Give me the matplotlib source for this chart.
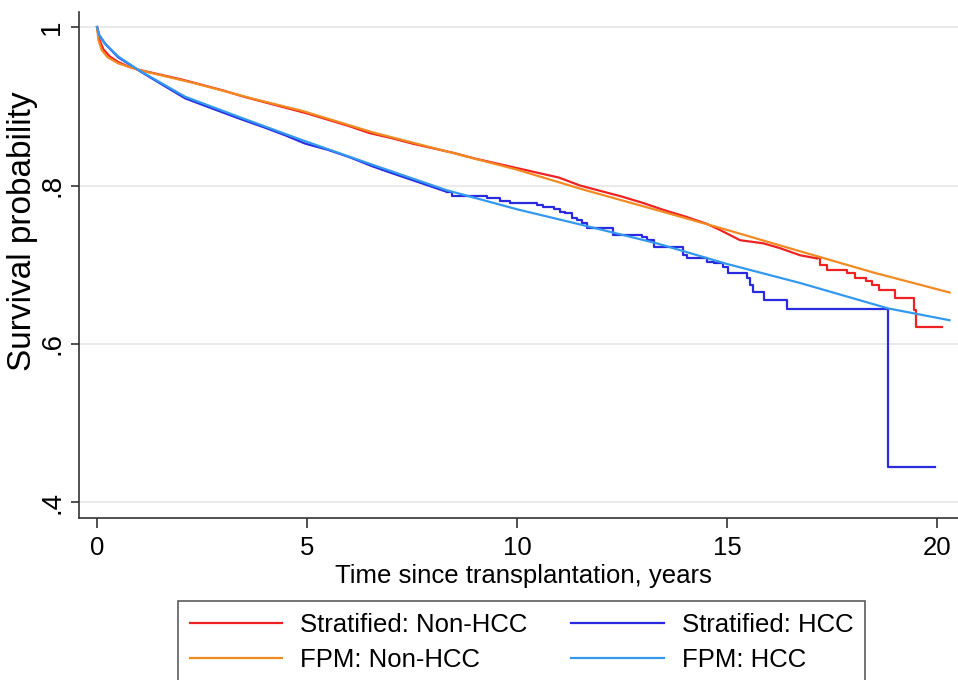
import matplotlib.pyplot as plt

# Kaplan-Meier style stratified curves (smooth part, then visible steps)
strat_nonhcc_t = [0, 0.05, 0.15, 0.3, 0.5, 0.75, 1.0, 1.5, 2.0, 2.5, 3.0, 3.5, 4.0, 4.5,
                  5.0, 5.5, 6.0, 6.5, 7.0, 7.5, 8.0, 8.5, 9.0, 9.5, 10.0, 10.5, 11.0,
                  11.5, 12.0, 12.5, 13.0, 13.5, 14.0, 14.5, 14.83, 15.31, 15.87, 16.26,
                  16.74, 17.14]
strat_nonhcc_s = [1.0, 0.985, 0.972, 0.963, 0.956, 0.950, 0.946, 0.940, 0.934, 0.927,
                  0.920, 0.912, 0.905, 0.898, 0.891, 0.883, 0.875, 0.866, 0.860, 0.853,
                  0.847, 0.841, 0.834, 0.828, 0.822, 0.816, 0.810, 0.800, 0.793, 0.786,
                  0.778, 0.769, 0.761, 0.752, 0.744, 0.731, 0.727, 0.721, 0.712, 0.708]
strat_nonhcc_step_t = [17.14, 17.21, 17.37, 17.85, 18.05, 18.30, 18.45, 18.62, 19.00,
                       19.45, 19.50, 20.11]
strat_nonhcc_step_s = [0.708, 0.700, 0.693, 0.689, 0.683, 0.679, 0.674, 0.668, 0.658,
                       0.643, 0.622, 0.622]

strat_hcc_t = [0, 0.05, 0.19, 0.5, 1.0, 1.5, 2.1, 2.6, 3.36, 4.0, 4.5, 4.95, 5.5, 6.0,
               6.57, 7.0, 7.5, 8.0, 8.33]
strat_hcc_s = [1.0, 0.99, 0.979, 0.962, 0.945, 0.929, 0.910, 0.900, 0.885, 0.873, 0.863,
               0.853, 0.845, 0.836, 0.824, 0.816, 0.807, 0.798, 0.792]
strat_hcc_step_t = [8.33, 8.45, 9.28, 9.60, 9.83, 10.47, 10.63, 10.87, 11.02, 11.14,
                    11.30, 11.42, 11.54, 11.66, 12.29, 12.97, 13.09, 13.25, 13.96, 14.04,
                    14.52, 14.68, 14.91, 15.03, 15.47, 15.55, 15.63, 15.87, 16.42, 18.84,
                    19.95]
strat_hcc_step_s = [0.792, 0.787, 0.784, 0.781, 0.778, 0.776, 0.773, 0.771, 0.767, 0.765,
                    0.759, 0.756, 0.753, 0.746, 0.738, 0.735, 0.731, 0.723, 0.712, 0.708,
                    0.704, 0.702, 0.6975, 0.689, 0.683, 0.674, 0.666, 0.6555, 0.644,
                    0.445, 0.445]

# Flexible parametric model predictions
fpm_nonhcc_t = [0, 0.03, 0.11, 0.25, 0.51, 0.98, 2.33, 3.68, 4.9, 6.57, 8.33, 10.0,
                11.57, 13.33, 15.0, 16.74, 18.5, 20.3]
fpm_nonhcc_s = [1.0, 0.984, 0.971, 0.962, 0.954, 0.946, 0.929, 0.910, 0.894, 0.867,
                0.843, 0.820, 0.795, 0.769, 0.744, 0.717, 0.690, 0.665]

fpm_hcc_t = [0, 0.05, 0.19, 0.5, 0.98, 2.10, 3.36, 4.9, 6.57, 8.33, 10.0, 11.57, 13.33,
             15.0, 16.74, 18.83, 20.3]
fpm_hcc_s = [1.0, 0.99, 0.979, 0.963, 0.946, 0.912, 0.887, 0.857, 0.826, 0.794, 0.770,
             0.750, 0.727, 0.701, 0.677, 0.645, 0.630]

x_ticks = [0, 5, 10, 15, 20]
y_ticks = [0.4, 0.6, 0.8, 1.0]
y_ticklabels = ['.4', '.6', '.8', '1']

c_red = '#ee2222'
c_blue = '#2a2ae0'
c_orange = '#f28a22'
c_lblue = '#3399ee'

font = ['Liberation Sans', 'DejaVu Sans']
fs = 18.5

fig = plt.figure(figsize=(9.58, 6.8), dpi=100)
ax = fig.add_axes([79 / 958, 1 - 518 / 680, (958 - 79) / 958, (518 - 12) / 680])

lw = 1.6
ax.plot(strat_nonhcc_t, strat_nonhcc_s, color=c_red, lw=lw)
ax.plot(strat_nonhcc_step_t, strat_nonhcc_step_s, color=c_red, lw=lw, drawstyle='steps-post')
ax.plot(strat_hcc_t, strat_hcc_s, color=c_blue, lw=lw)
ax.plot(strat_hcc_step_t, strat_hcc_step_s, color=c_blue, lw=lw, drawstyle='steps-post')
ax.plot(fpm_nonhcc_t, fpm_nonhcc_s, color=c_orange, lw=lw)
ax.plot(fpm_hcc_t, fpm_hcc_s, color=c_lblue, lw=lw)

ax.set_xlim(-0.43, 20.5)
ax.set_ylim(0.3804, 1.019)
ax.set_xticks(x_ticks)
ax.set_xticklabels([str(v) for v in x_ticks], family=font, fontsize=fs)
ax.set_yticks(y_ticks)
ax.set_yticklabels(y_ticklabels, family=font, fontsize=20, rotation=90, va='center')
ax.grid(axis='y', color='#e6e6e6', lw=1.2)
ax.set_axisbelow(True)
for side in ['top', 'right']:
    ax.spines[side].set_visible(False)
for side in ['left', 'bottom']:
    ax.spines[side].set_color('#333333')
    ax.spines[side].set_linewidth(1.2)
ax.tick_params(axis='x', length=7, width=1.2, color='#333333', pad=6)
ax.tick_params(axis='y', length=6, width=1.2, color='#333333', pad=4)

ax.set_xlabel('Time since transplantation, years', family=font, fontsize=fs)
ax.xaxis.set_label_coords((523 - 79) / 879, -(564 - 518) / 506)
ax.set_ylabel('Survival probability', family=font, fontsize=24)
ax.yaxis.set_label_coords((38 - 79) / 879, (518 - 231) / 506)

handles = [plt.Line2D([], [], color=c, lw=lw) for c in (c_red, c_orange, c_blue, c_lblue)]
labels = ['Stratified: Non-HCC', 'FPM: Non-HCC', 'Stratified: HCC', 'FPM: HCC']
leg = fig.legend(handles, labels, ncol=2, loc='upper left',
                 bbox_to_anchor=(178 / 958, 1 - 601 / 680),
                 prop={'family': font, 'size': fs}, frameon=True, fancybox=False,
                 edgecolor='#333333', handlelength=3.6, handletextpad=0.7,
                 columnspacing=1.7, labelspacing=0.45, borderpad=0.45, borderaxespad=0)
leg.get_frame().set_linewidth(1.2)

fig.savefig('out.png', dpi=100)
